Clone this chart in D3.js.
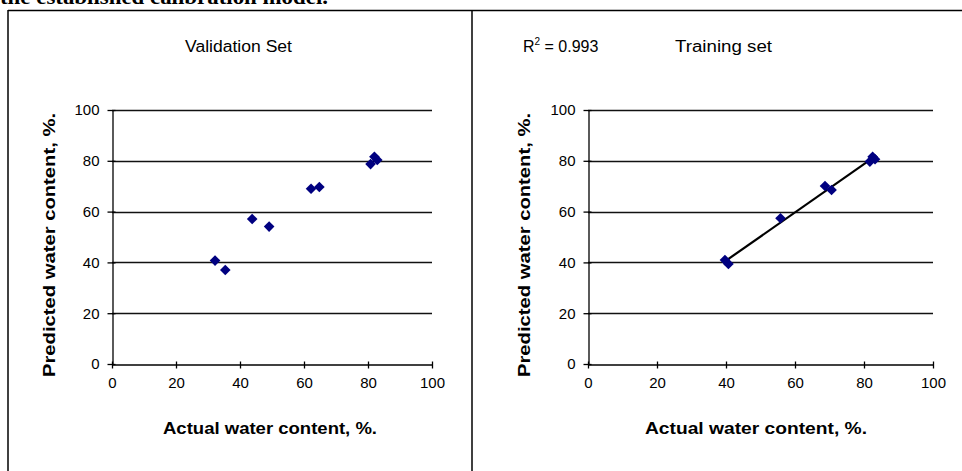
<!DOCTYPE html>
<html><head><meta charset="utf-8">
<script src="https://cdn.jsdelivr.net/npm/d3@7"></script>
<style>html,body{margin:0;padding:0;background:#fff;overflow:hidden}</style>
</head><body>
<svg id="c" width="962" height="471"></svg>
<script>
const valX = [32.2, 35.4, 43.8, 49.1, 62.2, 64.8, 80.8, 82.0, 82.9];
const valY = [40.7, 37.0, 57.1, 54.1, 69.0, 69.7, 78.7, 81.6, 80.3];
const trainX = [39.7, 40.7, 55.8, 68.7, 70.6, 81.7, 82.5, 83.2];
const trainY = [40.9, 39.4, 57.4, 70.1, 68.5, 79.7, 81.6, 80.6];
const tickValues = [0, 20, 40, 60, 80, 100];
const titles = ["Validation Set", "Training set"];
const r2Label = "0.993";
const xLabel = "Actual water content, %.";
const yLabel = "Predicted water content, %.";
const caption = "the established calibration model.";

const FONT = "Liberation Sans, Arial, sans-serif";
const svg = d3.select("#c");
// caption clipped at top (as in the reference)
svg.append("text").attr("x", 0).attr("y", 4).attr("font-family", "Liberation Serif, serif")
  .attr("font-weight", "bold").attr("font-size", 22).attr("textLength", 328).attr("lengthAdjust", "spacingAndGlyphs")
  .attr("fill", "#000").text(caption);
// frame
svg.append("line").attr("x1", 8).attr("x2", 962).attr("y1", 10.5).attr("y2", 10.5).attr("stroke", "#000").attr("stroke-width", 1.5);
svg.append("line").attr("x1", 8).attr("x2", 8).attr("y1", 10).attr("y2", 471).attr("stroke", "#000").attr("stroke-width", 1.5);
svg.append("line").attr("x1", 472).attr("x2", 472).attr("y1", 10).attr("y2", 471).attr("stroke", "#000").attr("stroke-width", 1.5);

function panel(opts, xs, ys, trend) {
  const g = svg.append("g");
  const x = d3.scaleLinear().domain([0, 100]).range([opts.x0, opts.x1]);
  const y = d3.scaleLinear().domain([0, 100]).range([364, 110]);
  g.selectAll("line.grid").data(tickValues.filter(d => d > 0)).enter().append("line")
    .attr("x1", x(0)).attr("x2", x(100)).attr("y1", d => Math.round(y(d)) + 0.5).attr("y2", d => Math.round(y(d)) + 0.5)
    .attr("stroke", "#111").attr("stroke-width", 1.3);
  const xa = g.append("g").attr("transform", `translate(0,${Math.round(y(0)) + 0.5})`)
    .call(d3.axisBottom(x).tickValues(tickValues).tickSize(4).tickSizeOuter(0).tickPadding(9));
  const ya = g.append("g").attr("transform", `translate(${Math.round(x(0)) + 0.5},0)`)
    .call(d3.axisLeft(y).tickValues(tickValues).tickSize(5).tickSizeOuter(0).tickPadding(8));
  [xa, ya].forEach(a => {
    a.selectAll("path,line").attr("stroke", "#000").attr("stroke-width", 1.3);
    a.selectAll("text").attr("font-family", FONT).attr("font-size", 15).attr("fill", "#000");
  });
  ya.selectAll(".tick line").attr("x1", 3);
  xa.selectAll(".tick line").attr("y1", -3);
  if (trend) {
    const mx = d3.mean(xs), my = d3.mean(ys);
    let sxy = 0, sxx = 0;
    xs.forEach((v, i) => { sxy += (v - mx) * (ys[i] - my); sxx += (v - mx) * (v - mx); });
    const b = sxy / sxx, a0 = my - b * mx;
    const ext = d3.extent(xs);
    g.append("line").attr("x1", x(ext[0])).attr("y1", y(a0 + b * ext[0]))
      .attr("x2", x(ext[1])).attr("y2", y(a0 + b * ext[1])).attr("stroke", "#000").attr("stroke-width", 2.2);
  }
  const sym = d3.symbol().type(d3.symbolDiamond2).size(72);
  g.selectAll("path.pt").data(xs.map((v, i) => [v, ys[i]])).enter().append("path")
    .attr("d", sym).attr("fill", "#000080")
    .attr("transform", d => `translate(${x(d[0])},${y(d[1])})`);
  g.append("text").attr("x", opts.xl).attr("y", 434).attr("text-anchor", "middle")
    .attr("font-family", FONT).attr("font-weight", "bold").attr("font-size", 16)
    .attr("textLength", opts.xlw).attr("lengthAdjust", "spacingAndGlyphs").text(xLabel);
  g.append("text").attr("transform", `translate(${opts.yl},245) rotate(-90)`).attr("text-anchor", "middle")
    .attr("font-family", FONT).attr("font-weight", "bold").attr("font-size", 16)
    .attr("textLength", 264).attr("lengthAdjust", "spacingAndGlyphs").text(yLabel);
  return {x, y, g};
}

panel({x0: 112, x1: 432, xl: 270, xlw: 214, yl: 55}, valX, valY, false);
panel({x0: 588, x1: 933, xl: 756, xlw: 222, yl: 530}, trainX, trainY, true);

svg.append("text").attr("x", 185).attr("y", 52)
  .attr("font-family", FONT).attr("font-size", 16).attr("textLength", 107).attr("lengthAdjust", "spacingAndGlyphs").text(titles[0]);
svg.append("text").attr("x", 675).attr("y", 52)
  .attr("font-family", FONT).attr("font-size", 16).attr("textLength", 97).attr("lengthAdjust", "spacingAndGlyphs").text(titles[1]);
const r2 = svg.append("text").attr("x", 523).attr("y", 52)
  .attr("font-family", FONT).attr("font-size", 16);
r2.append("tspan").text("R");
r2.append("tspan").attr("dy", -7).attr("font-size", 10).text("2");
r2.append("tspan").attr("dy", 7).text(" = " + r2Label);
</script>
</body></html>
